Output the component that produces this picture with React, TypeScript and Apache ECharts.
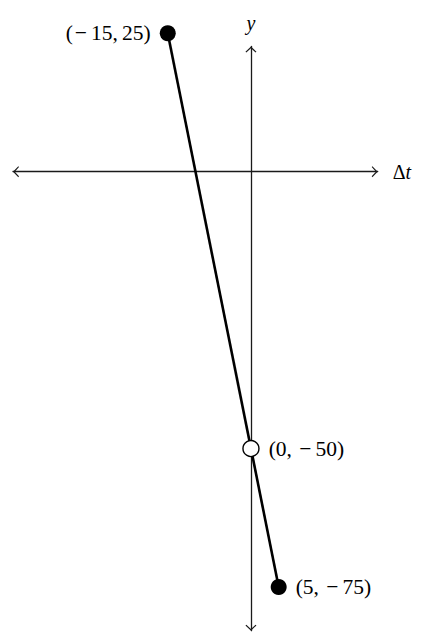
import React, { useEffect, useRef } from "react";
import * as echarts from "echarts";

// Line through the two closed endpoints
const lineX = [-15, 5];
const lineY = [25, -75];

// Marked points
const pointX = [-15, 0, 5];
const pointY = [25, -50, -75];
const pointOpen = [false, true, false];
const pointLabels = ["(−15,\u200925)", "(0, −50)", "(5, −75)"];
const pointLabelSide = ["left", "right", "right"];

// Axis extents
const xRange = [-42.9, 22.85];
const yRange = [-82.9, 22.6];
const xName = "Δt";
const yName = "y";

const ARROW = "path://M5.5,0 L11,5.3 L10.1,6 L5.5,1.8 L0.9,6 L0,5.3 Z";
const SERIF = "'Liberation Serif', 'Times New Roman', serif";

function richLabel(s: string) {
  return s
    .split("−")
    .map((p) => (p ? `{n|${p}}` : ""))
    .join("{m|−}");
}

export default function App() {
  const ref = useRef<HTMLDivElement>(null);
  useEffect(() => {
    if (!ref.current) return;
    const chart = echarts.init(ref.current, undefined, { renderer: "svg" });
    const axisLine = {
      show: true,
      onZero: true,
      symbol: [ARROW, ARROW],
      symbolSize: [11, 6],
      symbolOffset: [3, -3],
      lineStyle: { color: "#1a1a1a", width: 1.3 },
    };
    const labelRich = {
      n: { fontFamily: SERIF, fontSize: 21.5, color: "#000" },
      m: { fontFamily: SERIF, fontSize: 21.5, color: "#000", padding: [0, 4, 0, 2] },
    };
    chart.setOption({
      animation: false,
      backgroundColor: "#fff",
      grid: { left: 13, right: 53.3, top: 46.5, bottom: 11.3, containLabel: false },
      xAxis: {
        type: "value",
        min: xRange[0],
        max: xRange[1],
        axisLine,
        axisTick: { show: false },
        axisLabel: { show: false },
        splitLine: { show: false },
        name: `{d|${xName.slice(0, 1)}}{t|${xName.slice(1)}}`,
        nameLocation: "end",
        nameGap: 15,
        nameTextStyle: {
          rich: {
            d: { fontFamily: SERIF, fontSize: 20, color: "#000" },
            t: { fontFamily: SERIF, fontSize: 20, fontStyle: "italic", color: "#000" },
          },
        },
      },
      yAxis: {
        type: "value",
        min: yRange[0],
        max: yRange[1],
        axisLine,
        axisTick: { show: false },
        axisLabel: { show: false },
        splitLine: { show: false },
        name: yName,
        nameLocation: "end",
        nameGap: 14,
        nameTextStyle: { fontFamily: SERIF, fontSize: 20, fontStyle: "italic", color: "#000" },
      },
      series: [
        {
          type: "line",
          data: lineX.map((x, i) => [x, lineY[i]]),
          showSymbol: false,
          clip: false,
          lineStyle: { color: "#000", width: 2.6 },
          z: 2,
        },
        {
          type: "scatter",
          clip: false,
          symbol: "circle",
          symbolSize: 16,
          z: 3,
          data: pointX.map((x, i) => ({
            value: [x, pointY[i]],
            itemStyle: pointOpen[i]
              ? { color: "#fff", borderColor: "#000", borderWidth: 1.4, opacity: 1 }
              : { color: "#000", borderWidth: 0, opacity: 1 },
            label: {
              show: true,
              position: pointLabelSide[i],
              distance: 9,
              formatter: richLabel(pointLabels[i]),
              rich: labelRich,
            },
          })),
        },
      ],
    });
    return () => chart.dispose();
  }, []);
  return (
    <div
      ref={ref}
      style={{ position: "fixed", left: 0, top: 0, width: 431, height: 642, background: "#fff" }}
    />
  );
}
